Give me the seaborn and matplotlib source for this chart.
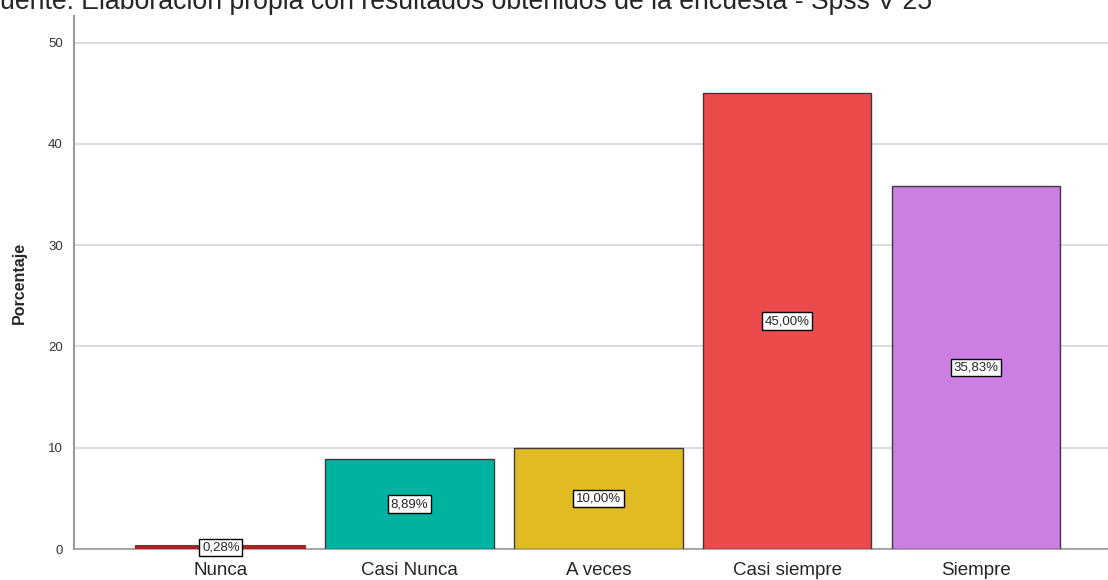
import matplotlib
matplotlib.use("Agg")
import matplotlib.pyplot as plt
import pandas as pd
import seaborn as sns

# data
categories = ["Nunca", "Casi Nunca", "A veces", "Casi siempre", "Siempre"]
percentages = [0.28, 8.89, 10.00, 45.00, 35.83]
labels = ["0,28%", "8,89%", "10,00%", "45,00%", "35,83%"]
colors = ["#a82424", "#00b3a1", "#e1bb22", "#ec4b4c", "#cb7fe3"]
yticks = [0, 10, 20, 30, 40, 50]
source = "uente: Elaboración propia con resultados obtenidos de la encuesta - Spss V 25"

df = pd.DataFrame({"categoria": categories, "porcentaje": percentages})

sns.set_style("white")
plt.rcParams["font.family"] = ["Liberation Sans", "DejaVu Sans"]

fig = plt.figure(figsize=(11.08, 5.8), dpi=100)
ax = fig.add_axes([0.0668, 0.0534, 0.9332, 0.9186])

sns.barplot(data=df, x="categoria", y="porcentaje", hue="categoria",
            palette=colors, saturation=1, legend=False, width=0.894,
            edgecolor="#3a3a3a", linewidth=1.0, ax=ax, zorder=3)

# the tiny "Nunca" bar shows as a thick red line, no grey outline
ax.patches[0].set_edgecolor(colors[0])
ax.patches[0].set_linewidth(1.5)

# value labels in white boxes, centred in each bar
for i, (v, lab) in enumerate(zip(percentages, labels)):
    ax.text(i, v / 2, lab, ha="center", va="center", fontsize=9.5, zorder=5,
            bbox=dict(boxstyle="square,pad=0.2", facecolor="white",
                      edgecolor="black", linewidth=1.0))

ax.set_ylim(0, 52.6)
ax.set_xlim(-0.778, 4.70)
ax.set_yticks(yticks)
ax.yaxis.grid(True, color="#d4d4d4", linewidth=1.2, zorder=0)
ax.set_axisbelow(True)
ax.tick_params(axis="y", labelsize=9.5, colors="#333333", length=0, pad=8)
ax.tick_params(axis="x", labelsize=13.5, length=0, pad=9)
ax.set_xlabel("")
ax.set_ylabel("Porcentaje", fontsize=11.5, fontweight="bold", labelpad=15)

for side in ["top", "right"]:
    ax.spines[side].set_visible(False)
ax.spines["left"].set_color("#9a9a9a")
ax.spines["left"].set_linewidth(1.5)
ax.spines["bottom"].set_color("#9a9a9a")
ax.spines["bottom"].set_linewidth(1.2)

# the source line sits partly above the top edge, as in the reference
fig.text(0.0, 1 - 9 / 580, source, ha="left", va="baseline", fontsize=19.2)

fig.savefig("out.png", dpi=100)
